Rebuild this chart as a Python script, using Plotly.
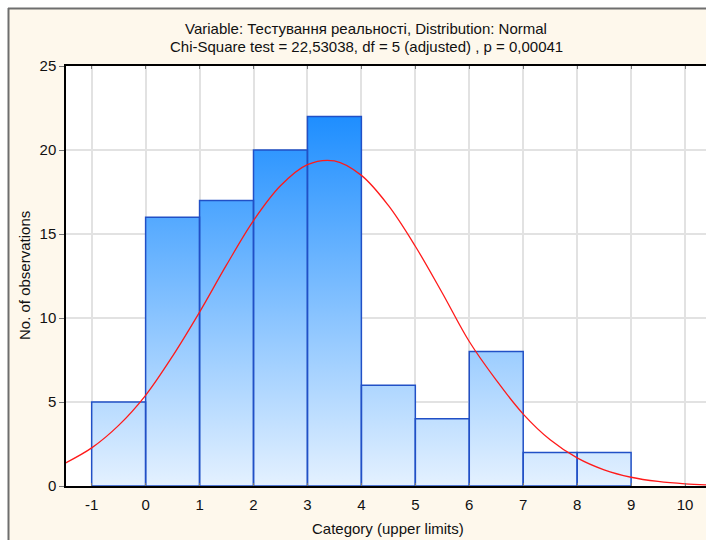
import plotly.graph_objects as go

# ---- data ----
BIN_EDGES = [-1, 0, 1, 2, 3, 4, 5, 6, 7, 8, 9]
COUNTS = [5, 16, 17, 20, 22, 6, 4, 8, 2, 2]
CURVE_X = [-1.5, -1, -0.5, 0, 0.5, 1, 1.5, 2, 2.5, 3, 3.5, 4, 4.5, 5, 5.5, 6,
           6.5, 7, 7.5, 8, 8.5, 9, 9.5, 10, 10.5]
CURVE_Y = [1.35, 2.27, 3.61, 5.40, 7.73, 10.35, 13.16, 15.80, 17.87, 19.13, 19.35,
           18.49, 16.70, 14.27, 11.49, 8.60, 6.30, 4.28, 2.75, 1.67, 0.96, 0.52,
           0.27, 0.13, 0.06]
X_TICKS = [-1, 0, 1, 2, 3, 4, 5, 6, 7, 8, 9, 10]
X_TICK_TEXT = ["-1", "0", "1", "2", "3", "4", "5", "6", "7", "8", "9", "10"]
Y_TICKS = [0, 5, 10, 15, 20, 25]
TITLE_1 = "Variable: Тестування реальності, Distribution: Normal"
TITLE_2 = "Chi-Square test = 22,53038, df = 5 (adjusted) , p = 0,00041"
X_TITLE = "Category (upper limits)"
Y_TITLE = "No. of observations"

FONT = "Liberation Sans, Arial, sans-serif"
FS = 15
W, H = 706, 540
ML, MR, MT, MB = 66, 0, 66, 54
PW, PH = W - ML - MR, H - MT - MB


def px_x(px):
    return (px - ML) / PW


def px_y(py):
    return (H - MB - py) / PH


# build bar rectangles (polygons separated by gaps) from the data
bx, by = [], []
for i, c in enumerate(COUNTS):
    x0, x1 = BIN_EDGES[i], BIN_EDGES[i + 1]
    bx += [x0, x0, x1, x1, x0, None]
    by += [0, c, c, 0, 0, None]

fig = go.Figure()
fig.add_trace(go.Scatter(
    x=bx, y=by, mode="lines", fill="toself",
    line=dict(color="#2150C6", width=1.5),
    fillgradient=dict(type="vertical",
                      colorscale=[[0, "#E4F1FF"], [1, "#1E8EFF"]],
                      start=0, stop=max(COUNTS)),
    hoverinfo="skip", showlegend=False,
))
fig.add_trace(go.Scatter(
    x=CURVE_X, y=CURVE_Y, mode="lines",
    line=dict(color="#FF1A1A", width=1.3, shape="spline"),
    showlegend=False,
))

fig.update_xaxes(
    range=[-1.476, 10.389], tickvals=X_TICKS, ticktext=X_TICK_TEXT,
    showgrid=True, gridcolor="#E2E2E2", gridwidth=1.5, zeroline=False,
    showline=True, linecolor="black", linewidth=1.5, mirror="ticks",
    ticks="inside", ticklen=3, tickcolor="#777777", ticklabelstandoff=4,
    tickfont=dict(family=FONT, size=FS, color="#111111"),
)
fig.update_yaxes(
    range=[0, 25], tickvals=Y_TICKS, showgrid=True,
    gridcolor="#E2E2E2", gridwidth=1.5, zeroline=False,
    showline=True, linecolor="black", linewidth=1.5,
    ticks="outside", ticklen=5, tickcolor="#777777",
    tickfont=dict(family=FONT, size=FS, color="#111111"),
)

shapes = [
    # white area outside the window frame
    dict(type="rect", xref="paper", yref="paper",
         x0=px_x(0), x1=px_x(8), y0=px_y(H + 5), y1=px_y(-5),
         fillcolor="white", line_width=0, layer="above"),
    dict(type="rect", xref="paper", yref="paper",
         x0=px_x(0), x1=px_x(W + 5), y0=px_y(8), y1=px_y(-5),
         fillcolor="white", line_width=0, layer="above"),
    # gray frame lines
    dict(type="line", xref="paper", yref="paper",
         x0=px_x(8.5), x1=px_x(8.5), y0=px_y(8), y1=px_y(H + 5),
         line=dict(color="#6E6E6E", width=2)),
    dict(type="line", xref="paper", yref="paper",
         x0=px_x(8), x1=px_x(W + 5), y0=px_y(8.5), y1=px_y(8.5),
         line=dict(color="#6E6E6E", width=2)),
]

annotations = [
    dict(text=TITLE_1, x=px_x(366), y=px_y(28), xref="paper", yref="paper",
         showarrow=False, xanchor="center", yanchor="middle",
         font=dict(family=FONT, size=FS, color="#111111")),
    dict(text=TITLE_2, x=px_x(366), y=px_y(47), xref="paper", yref="paper",
         showarrow=False, xanchor="center", yanchor="middle",
         font=dict(family=FONT, size=FS, color="#111111")),
    dict(text=X_TITLE, x=px_x(388), y=px_y(528), xref="paper", yref="paper",
         showarrow=False, xanchor="center", yanchor="middle",
         font=dict(family=FONT, size=FS, color="#111111")),
    dict(text=Y_TITLE, x=px_x(24), y=px_y(276), xref="paper", yref="paper",
         showarrow=False, xanchor="center", yanchor="middle", textangle=-90,
         font=dict(family=FONT, size=FS, color="#111111")),
]

fig.update_layout(
    width=W, height=H,
    margin=dict(l=ML, r=MR, t=MT, b=MB, pad=0),
    paper_bgcolor="#FEF8EC", plot_bgcolor="white",
    shapes=shapes, annotations=annotations,
    showlegend=False,
)

fig.write_html("out.html")
